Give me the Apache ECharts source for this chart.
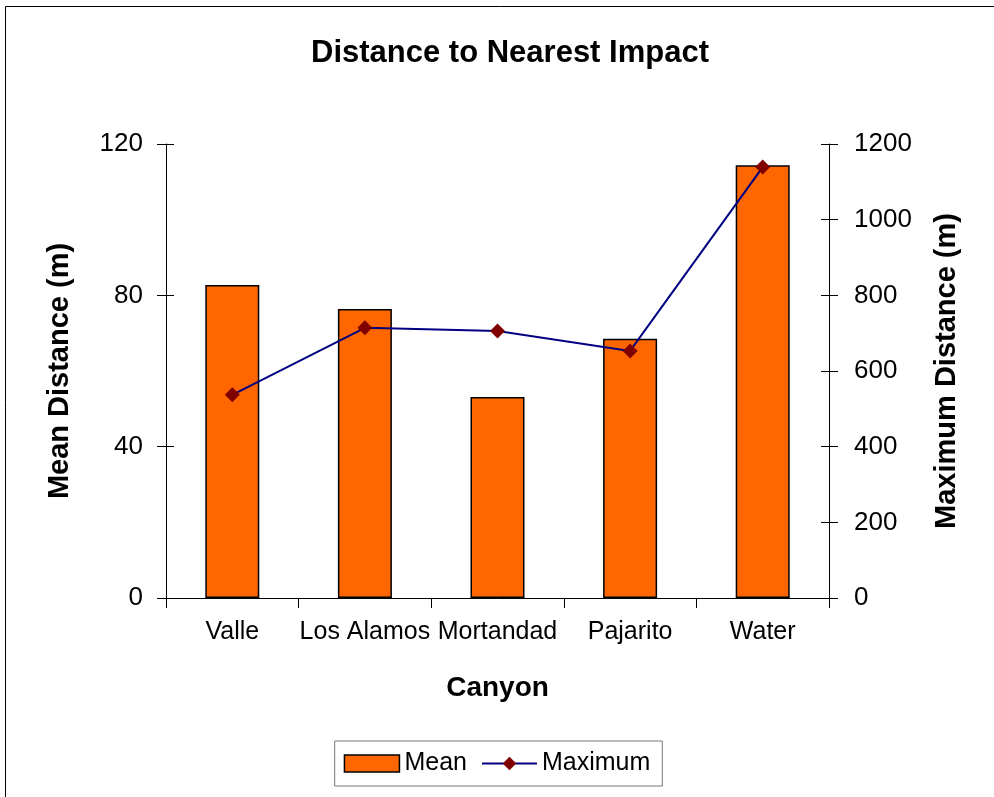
<!DOCTYPE html>
<html><head><meta charset="utf-8">
<script src="https://cdn.jsdelivr.net/npm/echarts@6/dist/echarts.min.js"></script>
<style>html,body{margin:0;padding:0;background:#fff}#c{width:994px;height:797px}</style>
</head><body><div id="c"></div>
<script>
const categories = ['Valle', 'Los Alamos', 'Mortandad', 'Pajarito', 'Water'];
const meanValues = [82.7, 76.4, 53.1, 68.5, 114.4];
const maxValues = [537, 714, 706, 653, 1139];
const leftTicks = [0, 40, 80, 120];
const rightTicks = [0, 200, 400, 600, 800, 1000, 1200];

const F = 'Liberation Sans, Arial, sans-serif';
const chart = echarts.init(document.getElementById('c'));
const gridPos = {left: 166, right: 165, top: 144, bottom: 199};
const yBase = {
  type: 'value', splitLine: {show: false},
  axisLine: {show: true, lineStyle: {color: '#000', width: 1}},
};
chart.setOption({
  animation: false,
  backgroundColor: '#fff',
  textStyle: {fontFamily: F},
  title: {text: 'Distance to Nearest Impact', left: 306, top: 33,
    textStyle: {fontFamily: F, fontSize: 31, fontWeight: 'bold', color: '#000'}},
  graphic: [{type: 'rect', shape: {x: 5.5, y: 6.5, width: 1000, height: 800},
    style: {fill: 'none', stroke: '#000', lineWidth: 1}, silent: true}],
  legend: {
    bottom: 11, left: 'center', itemGap: 14, itemWidth: 55, itemHeight: 17,
    borderColor: '#777', borderWidth: 1, padding: [10, 12, 10, 9],
    textStyle: {fontFamily: F, fontSize: 25, color: '#000'},
    data: [
      {name: 'Mean', icon: 'rect', itemStyle: {color: '#FF6600', borderColor: '#000', borderWidth: 1.5}},
      {name: 'Maximum'}
    ]
  },
  grid: gridPos,
  xAxis: {
    type: 'category', data: categories, boundaryGap: true,
    axisLine: {lineStyle: {color: '#000', width: 1}},
    axisTick: {show: true, alignWithLabel: false, length: 10, inside: false, lineStyle: {color: '#000'}},
    axisLabel: {fontFamily: F, fontSize: 25, color: '#000', margin: 22, interval: 0},
    name: 'Canyon', nameLocation: 'middle', nameGap: 76,
    nameTextStyle: {fontFamily: F, fontSize: 28, fontWeight: 'bold', color: '#000'}
  },
  yAxis: [
    Object.assign({}, yBase, {
      position: 'left', min: leftTicks[0], max: leftTicks[leftTicks.length - 1], interval: leftTicks[1] - leftTicks[0],
      axisTick: {show: true, length: 9, lineStyle: {color: '#000'}},
      axisLabel: {fontFamily: F, fontSize: 26, color: '#000', margin: 23},
      name: 'Mean Distance (m)', nameLocation: 'middle', nameGap: 92, nameRotate: 90,
      nameTextStyle: {fontFamily: F, fontSize: 29, fontWeight: 'bold', color: '#000'}
    }),
    Object.assign({}, yBase, {
      position: 'right', min: rightTicks[0], max: rightTicks[rightTicks.length - 1], interval: rightTicks[1] - rightTicks[0],
      axisTick: {show: true, length: 9, lineStyle: {color: '#000'}},
      axisLabel: {fontFamily: F, fontSize: 26, color: '#000', margin: 25, formatter: v => String(v)},
      name: 'Maximum Distance (m)', nameLocation: 'middle', nameGap: 103, nameRotate: 90,
      nameTextStyle: {fontFamily: F, fontSize: 29, fontWeight: 'bold', color: '#000'}
    }),
    {type: 'value', position: 'left', min: 0, max: 120, interval: 40, splitLine: {show: false},
      axisLine: {show: false}, axisLabel: {show: false},
      axisTick: {show: true, inside: true, length: 8, lineStyle: {color: '#000'}}},
    {type: 'value', position: 'right', min: 0, max: 1200, interval: 200, splitLine: {show: false},
      axisLine: {show: false}, axisLabel: {show: false},
      axisTick: {show: true, inside: true, length: 8, lineStyle: {color: '#000'}}}
  ],
  series: [
    {name: 'Mean', type: 'bar', yAxisIndex: 0, data: meanValues, barWidth: 54,
      itemStyle: {color: '#FF6600', borderColor: '#000', borderWidth: 1.5}},
    {name: 'Maximum', type: 'line', yAxisIndex: 1, data: maxValues,
      symbol: 'diamond', symbolSize: 15,
      lineStyle: {color: '#000080', width: 2},
      itemStyle: {color: '#800000'}}
  ]
});
</script></body></html>
